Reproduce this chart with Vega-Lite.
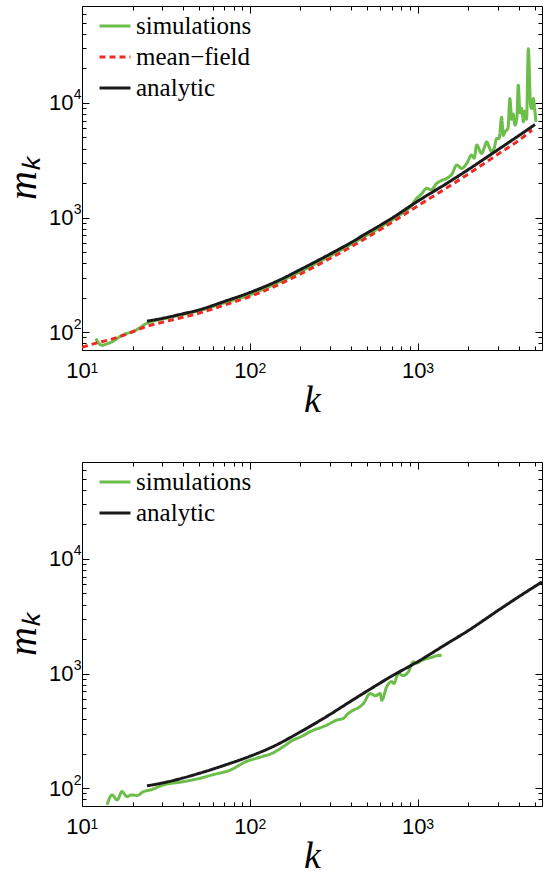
{
  "$schema": "https://vega.github.io/schema/vega-lite/v6.json",
  "padding": {"left": 3, "top": 5, "right": 3, "bottom": 0},
  "spacing": 41,
  "config": {
    "view": {"stroke": "#000", "strokeWidth": 1},
    "axis": {"grid": false, "domain": false, "labelFlush": false, "labelOverlap": false, "tickColor": "#000", "tickWidth": 1, "labelFont": "Liberation Sans", "labelFontSize": 22, "labelColor": "#000", "titleFont": "Liberation Serif", "titleFontStyle": "italic", "titleFontWeight": "normal", "titleColor": "#000"},
    "legend": {"orient": "none", "legendX": 16, "legendY": 3, "symbolType": "stroke", "symbolSize": 961, "symbolStrokeWidth": 3, "labelFont": "Liberation Serif", "labelFontSize": 25, "labelColor": "#000", "labelOffset": 4, "rowPadding": 1, "padding": 0, "title": null}
  },
  "datasets": {
    "top": [
      {"k": 12.1, "m": 88, "s": "simulations"},
      {"k": 13.1, "m": 77, "s": "simulations"},
      {"k": 14, "m": 79, "s": "simulations"},
      {"k": 15.1, "m": 82.5, "s": "simulations"},
      {"k": 17.3, "m": 94, "s": "simulations"},
      {"k": 20.8, "m": 103.5, "s": "simulations"},
      {"k": 24.4, "m": 120, "s": "simulations"},
      {"k": 30, "m": 130, "s": "simulations"},
      {"k": 40, "m": 143, "s": "simulations"},
      {"k": 50, "m": 154, "s": "simulations"},
      {"k": 70, "m": 180, "s": "simulations"},
      {"k": 100, "m": 212, "s": "simulations"},
      {"k": 150, "m": 275, "s": "simulations"},
      {"k": 200, "m": 338, "s": "simulations"},
      {"k": 300, "m": 462, "s": "simulations"},
      {"k": 400, "m": 585, "s": "simulations"},
      {"k": 500, "m": 705, "s": "simulations"},
      {"k": 700, "m": 950, "s": "simulations"},
      {"k": 800, "m": 1080, "s": "simulations"},
      {"k": 900, "m": 1230, "s": "simulations"},
      {"k": 986, "m": 1473, "s": "simulations"},
      {"k": 1050, "m": 1600, "s": "simulations"},
      {"k": 1132, "m": 1800, "s": "simulations"},
      {"k": 1200, "m": 1750, "s": "simulations"},
      {"k": 1297, "m": 1986, "s": "simulations"},
      {"k": 1380, "m": 2100, "s": "simulations"},
      {"k": 1489, "m": 2198, "s": "simulations"},
      {"k": 1600, "m": 2400, "s": "simulations"},
      {"k": 1708, "m": 2870, "s": "simulations"},
      {"k": 1828, "m": 2685, "s": "simulations"},
      {"k": 1958, "m": 2966, "s": "simulations"},
      {"k": 2095, "m": 3510, "s": "simulations"},
      {"k": 2170, "m": 3300, "s": "simulations"},
      {"k": 2244, "m": 4290, "s": "simulations"},
      {"k": 2404, "m": 3620, "s": "simulations"},
      {"k": 2480, "m": 4000, "s": "simulations"},
      {"k": 2575, "m": 4585, "s": "simulations"},
      {"k": 2650, "m": 4200, "s": "simulations"},
      {"k": 2757, "m": 3750, "s": "simulations"},
      {"k": 2850, "m": 4000, "s": "simulations"},
      {"k": 2953, "m": 4895, "s": "simulations"},
      {"k": 3050, "m": 4900, "s": "simulations"},
      {"k": 3162, "m": 7500, "s": "simulations"},
      {"k": 3230, "m": 5200, "s": "simulations"},
      {"k": 3311, "m": 5600, "s": "simulations"},
      {"k": 3450, "m": 6000, "s": "simulations"},
      {"k": 3540, "m": 10900, "s": "simulations"},
      {"k": 3630, "m": 7200, "s": "simulations"},
      {"k": 3700, "m": 8000, "s": "simulations"},
      {"k": 3800, "m": 6400, "s": "simulations"},
      {"k": 3900, "m": 7500, "s": "simulations"},
      {"k": 3970, "m": 14250, "s": "simulations"},
      {"k": 4070, "m": 8200, "s": "simulations"},
      {"k": 4150, "m": 9000, "s": "simulations"},
      {"k": 4260, "m": 6840, "s": "simulations"},
      {"k": 4350, "m": 8500, "s": "simulations"},
      {"k": 4450, "m": 7200, "s": "simulations"},
      {"k": 4560, "m": 29650, "s": "simulations"},
      {"k": 4700, "m": 9600, "s": "simulations"},
      {"k": 4775, "m": 8920, "s": "simulations"},
      {"k": 4885, "m": 10900, "s": "simulations"},
      {"k": 4950, "m": 9500, "s": "simulations"},
      {"k": 5060, "m": 6840, "s": "simulations"},
      {"k": 10, "m": 74, "s": "mean−field"},
      {"k": 12, "m": 80, "s": "mean−field"},
      {"k": 15, "m": 87, "s": "mean−field"},
      {"k": 18, "m": 95, "s": "mean−field"},
      {"k": 20, "m": 101, "s": "mean−field"},
      {"k": 24, "m": 112, "s": "mean−field"},
      {"k": 30, "m": 122, "s": "mean−field"},
      {"k": 40, "m": 135, "s": "mean−field"},
      {"k": 50, "m": 147, "s": "mean−field"},
      {"k": 70, "m": 172, "s": "mean−field"},
      {"k": 100, "m": 205, "s": "mean−field"},
      {"k": 150, "m": 262, "s": "mean−field"},
      {"k": 200, "m": 322, "s": "mean−field"},
      {"k": 300, "m": 440, "s": "mean−field"},
      {"k": 400, "m": 555, "s": "mean−field"},
      {"k": 500, "m": 672, "s": "mean−field"},
      {"k": 700, "m": 905, "s": "mean−field"},
      {"k": 1000, "m": 1265, "s": "mean−field"},
      {"k": 1500, "m": 1830, "s": "mean−field"},
      {"k": 2000, "m": 2400, "s": "mean−field"},
      {"k": 3000, "m": 3560, "s": "mean−field"},
      {"k": 4000, "m": 4720, "s": "mean−field"},
      {"k": 4800, "m": 5800, "s": "mean−field"},
      {"k": 24.4, "m": 125, "s": "analytic"},
      {"k": 30, "m": 132, "s": "analytic"},
      {"k": 40, "m": 145, "s": "analytic"},
      {"k": 50, "m": 157, "s": "analytic"},
      {"k": 70, "m": 185, "s": "analytic"},
      {"k": 100, "m": 222, "s": "analytic"},
      {"k": 150, "m": 285, "s": "analytic"},
      {"k": 200, "m": 352, "s": "analytic"},
      {"k": 300, "m": 480, "s": "analytic"},
      {"k": 400, "m": 605, "s": "analytic"},
      {"k": 500, "m": 735, "s": "analytic"},
      {"k": 700, "m": 985, "s": "analytic"},
      {"k": 1000, "m": 1390, "s": "analytic"},
      {"k": 1500, "m": 2000, "s": "analytic"},
      {"k": 2000, "m": 2620, "s": "analytic"},
      {"k": 3000, "m": 3900, "s": "analytic"},
      {"k": 4000, "m": 5180, "s": "analytic"},
      {"k": 5000, "m": 6480, "s": "analytic"}
    ],
    "bottom": [
      {"k": 14.1, "m": 71.6, "s": "simulations"},
      {"k": 15.1, "m": 87.5, "s": "simulations"},
      {"k": 16.2, "m": 79, "s": "simulations"},
      {"k": 17.3, "m": 93.6, "s": "simulations"},
      {"k": 18.5, "m": 84.7, "s": "simulations"},
      {"k": 19.8, "m": 87.5, "s": "simulations"},
      {"k": 21.3, "m": 86.5, "s": "simulations"},
      {"k": 23.3, "m": 93.6, "s": "simulations"},
      {"k": 25.5, "m": 96.5, "s": "simulations"},
      {"k": 30.6, "m": 107, "s": "simulations"},
      {"k": 40, "m": 114, "s": "simulations"},
      {"k": 48.4, "m": 120.5, "s": "simulations"},
      {"k": 60, "m": 131, "s": "simulations"},
      {"k": 76.3, "m": 144, "s": "simulations"},
      {"k": 96, "m": 172, "s": "simulations"},
      {"k": 110, "m": 183, "s": "simulations"},
      {"k": 120, "m": 190, "s": "simulations"},
      {"k": 135, "m": 201, "s": "simulations"},
      {"k": 158.6, "m": 231, "s": "simulations"},
      {"k": 180, "m": 262, "s": "simulations"},
      {"k": 200, "m": 280, "s": "simulations"},
      {"k": 239, "m": 321, "s": "simulations"},
      {"k": 260, "m": 335, "s": "simulations"},
      {"k": 287, "m": 355, "s": "simulations"},
      {"k": 329, "m": 393, "s": "simulations"},
      {"k": 361, "m": 407, "s": "simulations"},
      {"k": 380, "m": 440, "s": "simulations"},
      {"k": 414, "m": 480, "s": "simulations"},
      {"k": 440, "m": 500, "s": "simulations"},
      {"k": 475, "m": 548, "s": "simulations"},
      {"k": 520, "m": 670, "s": "simulations"},
      {"k": 560, "m": 640, "s": "simulations"},
      {"k": 597, "m": 670, "s": "simulations"},
      {"k": 611, "m": 586, "s": "simulations"},
      {"k": 653, "m": 766, "s": "simulations"},
      {"k": 700, "m": 850, "s": "simulations"},
      {"k": 720, "m": 820, "s": "simulations"},
      {"k": 767, "m": 1000, "s": "simulations"},
      {"k": 820, "m": 960, "s": "simulations"},
      {"k": 879, "m": 1035, "s": "simulations"},
      {"k": 942, "m": 1265, "s": "simulations"},
      {"k": 986, "m": 1233, "s": "simulations"},
      {"k": 1050, "m": 1300, "s": "simulations"},
      {"k": 1132, "m": 1350, "s": "simulations"},
      {"k": 1200, "m": 1380, "s": "simulations"},
      {"k": 1300, "m": 1430, "s": "simulations"},
      {"k": 1389, "m": 1442, "s": "simulations"},
      {"k": 24.4, "m": 105, "s": "analytic"},
      {"k": 30, "m": 111, "s": "analytic"},
      {"k": 40, "m": 123, "s": "analytic"},
      {"k": 50, "m": 135, "s": "analytic"},
      {"k": 70, "m": 158, "s": "analytic"},
      {"k": 100, "m": 190, "s": "analytic"},
      {"k": 135, "m": 228, "s": "analytic"},
      {"k": 200, "m": 310, "s": "analytic"},
      {"k": 300, "m": 440, "s": "analytic"},
      {"k": 400, "m": 575, "s": "analytic"},
      {"k": 500, "m": 705, "s": "analytic"},
      {"k": 700, "m": 950, "s": "analytic"},
      {"k": 1000, "m": 1270, "s": "analytic"},
      {"k": 1500, "m": 1830, "s": "analytic"},
      {"k": 2000, "m": 2370, "s": "analytic"},
      {"k": 3000, "m": 3540, "s": "analytic"},
      {"k": 4000, "m": 4680, "s": "analytic"},
      {"k": 5500, "m": 6300, "s": "analytic"}
    ]
  },
  "vconcat": [
    {
      "width": 460,
      "height": 344,
      "data": {"name": "top"},
      "layer": [
        {
          "mark": {"type": "line", "strokeWidth": 3, "clip": true, "interpolate": "monotone"},
          "encoding": {
            "x": {"field": "k", "type": "quantitative", "scale": {"type": "log", "domain": [10, 5500], "nice": false},
              "axis": {"orient": "bottom", "values": [10,20,30,40,50,60,70,80,90,100,200,300,400,500,600,700,800,900,1000,2000,3000,4000,5000], "labelExpr": "datum.value == 10 || datum.value == 100 || datum.value == 1000 ? '10' : ''", "labelFontSize": {"condition": {"test": "datum.value == 10 || datum.value == 100 || datum.value == 1000", "value": 22}, "value": 0}, "labelOffset": -4, "tickSize": {"condition": {"test": "datum.value == 10 || datum.value == 100 || datum.value == 1000", "value": -7}, "value": -4}, "labelPadding": 17, "title": "k", "titleFontSize": 38, "titlePadding": 0}},
            "y": {"field": "m", "type": "quantitative", "scale": {"type": "log", "domain": [70, 70000], "nice": false},
              "axis": {"orient": "left", "values": [70,80,90,100,200,300,400,500,600,700,800,900,1000,2000,3000,4000,5000,6000,7000,8000,9000,10000,20000,30000,40000,50000,60000], "labelExpr": "datum.value == 100 || datum.value == 1000 || datum.value == 10000 ? '10' : ''", "labelFontSize": {"condition": {"test": "datum.value == 100 || datum.value == 1000 || datum.value == 10000", "value": 22}, "value": 0}, "tickSize": {"condition": {"test": "datum.value == 100 || datum.value == 1000 || datum.value == 10000", "value": -7}, "value": -4}, "labelPadding": 16, "title": "mₖ", "titleFontSize": 40, "titlePadding": 5}},
            "color": {"field": "s", "type": "nominal", "scale": {"domain": ["simulations", "mean−field", "analytic"], "range": ["#6cbe4a", "#ee2a24", "#1a1a1a"]}, "legend": {}},
            "strokeDash": {"field": "s", "type": "nominal", "scale": {"domain": ["simulations", "mean−field", "analytic"], "range": [[1, 0], [6, 4], [1, 0]]}, "legend": {}}
          }
        },
        {
          "mark": {"type": "point", "opacity": 0},
          "encoding": {
            "x": {"field": "k", "type": "quantitative", "scale": {"type": "log", "domain": [10, 5500], "nice": false},
              "axis": {"orient": "top", "values": [10,20,30,40,50,60,70,80,90,100,200,300,400,500,600,700,800,900,1000,2000,3000,4000,5000], "labels": false, "title": null, "tickSize": {"condition": {"test": "datum.value == 10 || datum.value == 100 || datum.value == 1000", "value": -7}, "value": -4}}},
            "y": {"field": "m", "type": "quantitative", "scale": {"type": "log", "domain": [70, 70000], "nice": false},
              "axis": {"orient": "right", "values": [70,80,90,100,200,300,400,500,600,700,800,900,1000,2000,3000,4000,5000,6000,7000,8000,9000,10000,20000,30000,40000,50000,60000], "labels": false, "title": null, "tickSize": {"condition": {"test": "datum.value == 100 || datum.value == 1000 || datum.value == 10000", "value": -7}, "value": -4}}}
          }
        },
        {
          "mark": {"type": "point", "opacity": 0},
          "encoding": {
            "x": {"field": "k", "type": "quantitative", "scale": {"type": "log", "domain": [10, 5500], "nice": false},
              "axis": {"orient": "bottom", "values": [10, 100, 1000], "ticks": false, "labelExpr": "datum.value == 10 ? '1' : datum.value == 100 ? '2' : '3'", "labelFontSize": 14, "labelPadding": 11, "labelOffset": 12, "title": null}},
            "y": {"field": "m", "type": "quantitative", "scale": {"type": "log", "domain": [70, 70000], "nice": false},
              "axis": {"orient": "left", "values": [100, 1000, 10000], "ticks": false, "labelExpr": "datum.value == 100 ? '2' : datum.value == 1000 ? '3' : '4'", "labelFontSize": 14, "labelPadding": 1, "labelOffset": -8, "title": null}}
          }
        }
      ],
      "resolve": {"axis": {"x": "independent", "y": "independent"}}
    },
    {
      "width": 460,
      "height": 344,
      "data": {"name": "bottom"},
      "layer": [
        {
          "mark": {"type": "line", "strokeWidth": 3, "clip": true, "interpolate": "monotone"},
          "encoding": {
            "x": {"field": "k", "type": "quantitative", "scale": {"type": "log", "domain": [10, 5500], "nice": false},
              "axis": {"orient": "bottom", "values": [10,20,30,40,50,60,70,80,90,100,200,300,400,500,600,700,800,900,1000,2000,3000,4000,5000], "labelExpr": "datum.value == 10 || datum.value == 100 || datum.value == 1000 ? '10' : ''", "labelFontSize": {"condition": {"test": "datum.value == 10 || datum.value == 100 || datum.value == 1000", "value": 22}, "value": 0}, "labelOffset": -4, "tickSize": {"condition": {"test": "datum.value == 10 || datum.value == 100 || datum.value == 1000", "value": -7}, "value": -4}, "labelPadding": 17, "title": "k", "titleFontSize": 38, "titlePadding": 0}},
            "y": {"field": "m", "type": "quantitative", "scale": {"type": "log", "domain": [70, 70000], "nice": false},
              "axis": {"orient": "left", "values": [70,80,90,100,200,300,400,500,600,700,800,900,1000,2000,3000,4000,5000,6000,7000,8000,9000,10000,20000,30000,40000,50000,60000], "labelExpr": "datum.value == 100 || datum.value == 1000 || datum.value == 10000 ? '10' : ''", "labelFontSize": {"condition": {"test": "datum.value == 100 || datum.value == 1000 || datum.value == 10000", "value": 22}, "value": 0}, "tickSize": {"condition": {"test": "datum.value == 100 || datum.value == 1000 || datum.value == 10000", "value": -7}, "value": -4}, "labelPadding": 16, "title": "mₖ", "titleFontSize": 40, "titlePadding": 5}},
            "color": {"field": "s", "type": "nominal", "scale": {"domain": ["simulations", "analytic"], "range": ["#6cbe4a", "#1a1a1a"]}, "legend": {}},
            "strokeDash": {"field": "s", "type": "nominal", "scale": {"domain": ["simulations", "analytic"], "range": [[1, 0], [1, 0]]}, "legend": {}}
          }
        },
        {
          "mark": {"type": "point", "opacity": 0},
          "encoding": {
            "x": {"field": "k", "type": "quantitative", "scale": {"type": "log", "domain": [10, 5500], "nice": false},
              "axis": {"orient": "top", "values": [10,20,30,40,50,60,70,80,90,100,200,300,400,500,600,700,800,900,1000,2000,3000,4000,5000], "labels": false, "title": null, "tickSize": {"condition": {"test": "datum.value == 10 || datum.value == 100 || datum.value == 1000", "value": -7}, "value": -4}}},
            "y": {"field": "m", "type": "quantitative", "scale": {"type": "log", "domain": [70, 70000], "nice": false},
              "axis": {"orient": "right", "values": [70,80,90,100,200,300,400,500,600,700,800,900,1000,2000,3000,4000,5000,6000,7000,8000,9000,10000,20000,30000,40000,50000,60000], "labels": false, "title": null, "tickSize": {"condition": {"test": "datum.value == 100 || datum.value == 1000 || datum.value == 10000", "value": -7}, "value": -4}}}
          }
        },
        {
          "mark": {"type": "point", "opacity": 0},
          "encoding": {
            "x": {"field": "k", "type": "quantitative", "scale": {"type": "log", "domain": [10, 5500], "nice": false},
              "axis": {"orient": "bottom", "values": [10, 100, 1000], "ticks": false, "labelExpr": "datum.value == 10 ? '1' : datum.value == 100 ? '2' : '3'", "labelFontSize": 14, "labelPadding": 11, "labelOffset": 12, "title": null}},
            "y": {"field": "m", "type": "quantitative", "scale": {"type": "log", "domain": [70, 70000], "nice": false},
              "axis": {"orient": "left", "values": [100, 1000, 10000], "ticks": false, "labelExpr": "datum.value == 100 ? '2' : datum.value == 1000 ? '3' : '4'", "labelFontSize": 14, "labelPadding": 1, "labelOffset": -8, "title": null}}
          }
        }
      ],
      "resolve": {"axis": {"x": "independent", "y": "independent"}}
    }
  ],
  "resolve": {"scale": {"color": "independent", "strokeDash": "independent"}, "legend": {"color": "independent", "strokeDash": "independent"}}
}
